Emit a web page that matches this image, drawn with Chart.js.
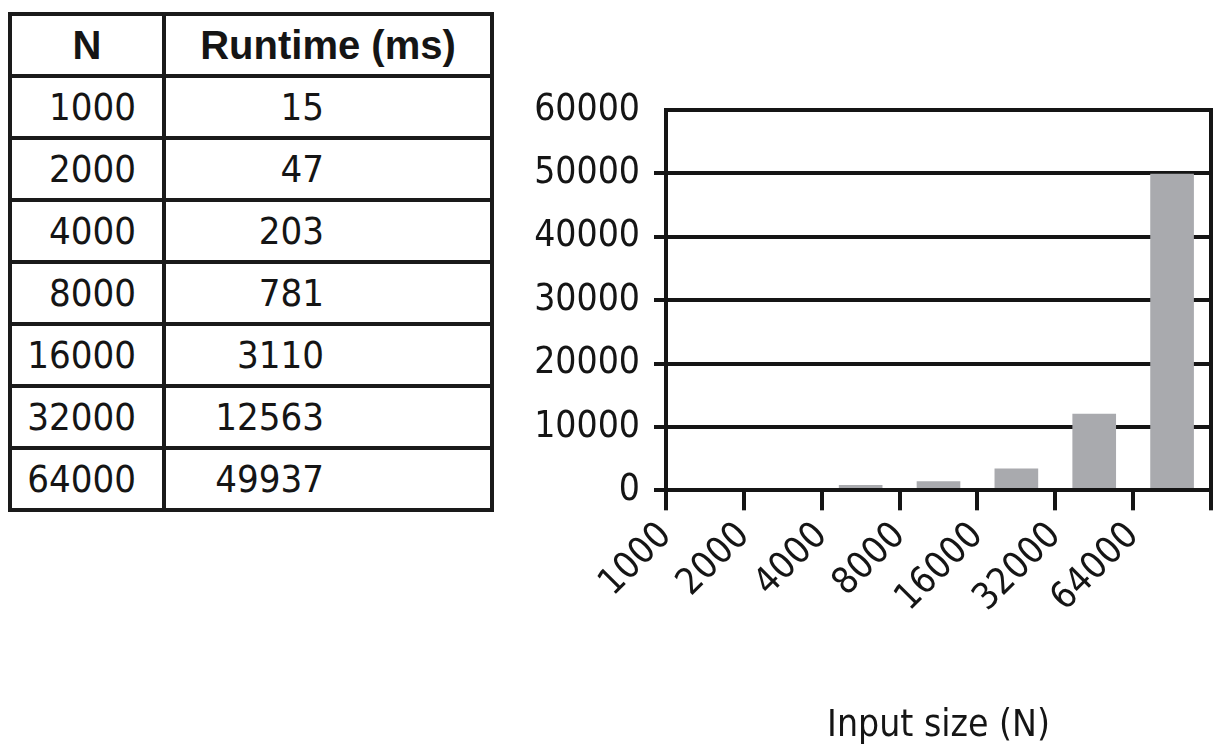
<!DOCTYPE html>
<html>
<head>
<meta charset="utf-8">
<script src="https://cdn.jsdelivr.net/npm/chart.js@4/dist/chart.umd.min.js"></script>
<style>
  html, body { margin: 0; padding: 0; background: #fff; width: 1213px; height: 751px; overflow: hidden; }
  #tbl { position: absolute; left: 8px; top: 12px; border-collapse: collapse; color: #151515;
         font-family: "Liberation Sans Narrow", "DejaVu Sans Condensed", sans-serif; font-size: 38px; }
  #tbl td, #tbl th { border: 4px solid #1a1a1a; padding: 0; line-height: 1; }
  #tbl th { height: 58px; font-family: "Liberation Sans", Arial, sans-serif; font-weight: bold; font-size: 40px; text-align: center; }
  #tbl td { height: 58px; }
  #tbl td.n { width: 124px; text-align: right; padding-right: 26px; }
  #tbl td.r { width: 158px; text-align: right; padding-right: 166px; }
  #wrap { position: absolute; left: 500px; top: 0px; width: 713px; height: 751px; }
</style>
</head>
<body>
<table id="tbl"></table>
<div id="wrap"><canvas id="c"></canvas></div>
<script>
// ---- data ----
const nLabels = ['1000', '2000', '4000', '8000', '16000', '32000', '64000'];
const runtimes = [15, 47, 203, 781, 3110, 12563, 49937];          // table values
const barValues = [15, 47, 780, 1400, 3400, 12050, 49900];         // bar heights as drawn
const yTickLabels = ['0', '10000', '20000', '30000', '40000', '50000', '60000'];
const headers = ['N', 'Runtime (ms)'];
const xTitle = 'Input size (N)';

// ---- table ----
const tbl = document.getElementById('tbl');
let html = '<tr><th>' + headers[0] + '</th><th>' + headers[1] + '</th></tr>';
nLabels.forEach((n, i) => {
  html += '<tr><td class="n">' + n + '</td><td class="r">' + runtimes[i] + '</td></tr>';
});
tbl.innerHTML = html;

// ---- chart ----
const FONT = '"Liberation Sans Narrow", "DejaVu Sans Condensed", sans-serif';
const INK = '#151515';
new Chart(document.getElementById('c'), {
  type: 'bar',
  data: {
    datasets: [{
      data: barValues.map((v, i) => ({ x: i + 0.5, y: v })),
      backgroundColor: '#a9aaae',
      borderWidth: 0,
      barThickness: 43
    }]
  },
  options: {
    animation: false,
    responsive: true,
    maintainAspectRatio: false,
    plugins: { legend: { display: false }, tooltip: { enabled: false } },
    layout: { padding: { top: 110, right: 0, bottom: 0, left: 0 } },
    scales: {
      x: {
        type: 'linear',
        min: 0,
        max: nLabels.length,
        offset: false,
        afterFit: (s) => { s.paddingRight = 0; },
        grid: { display: true, drawOnChartArea: false, drawTicks: true, tickLength: 20,
                lineWidth: 4, color: INK, offset: false, z: 1 },
        border: { display: true, width: 4, color: INK, z: 1 },
        ticks: {
          stepSize: 1,
          autoSkip: false,
          maxRotation: 45,
          minRotation: 45,
          padding: 4,
          color: INK,
          font: { family: FONT, size: 37 },
          callback: (v) => (nLabels[v] !== undefined ? nLabels[v] : '')
        },
        title: {
          display: true,
          text: xTitle,
          color: INK,
          font: { family: FONT, size: 37 },
          padding: { top: 80, bottom: 2 }
        }
      },
      y: {
        min: 0,
        max: 60000,
        afterFit: (s) => { s.width = 166; },
        grid: { lineWidth: 4, color: INK, tickLength: 12,
                tickColor: (c) => (c.tick && c.tick.value === 60000 ? 'rgba(0,0,0,0)' : INK) },
        border: { display: true, width: 4, color: INK, z: 1 },
        ticks: {
          stepSize: 10000,
          padding: 14,
          color: INK,
          font: { family: FONT, size: 37 },
          callback: (v) => yTickLabels[Math.round(v / 10000)]
        }
      },
      y2: {
        position: 'right',
        min: 0,
        max: 60000,
        afterFit: (s) => { s.width = 2; },
        grid: { drawOnChartArea: false, drawTicks: false },
        border: { display: true, width: 4, color: INK, z: 1 },
        ticks: { display: false }
      }
    }
  }
});
</script>
</body>
</html>
